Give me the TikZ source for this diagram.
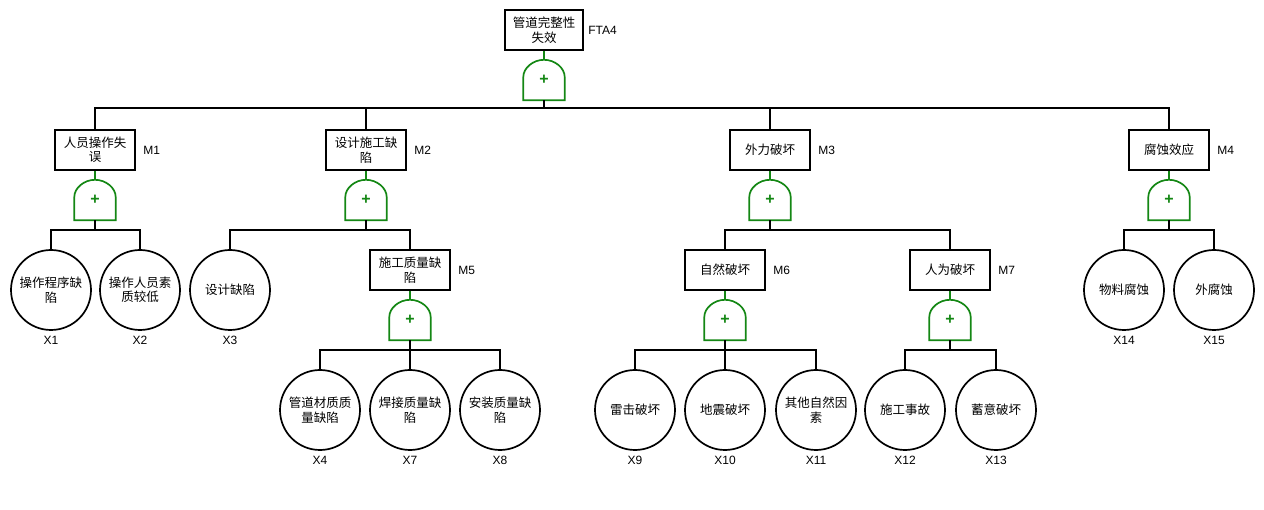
\documentclass[tikz,border=0pt]{standalone}
\usepackage{fontspec}
\setmainfont{Liberation Sans}
\newfontfamily\cjk{Noto Sans CJK SC}
\usetikzlibrary{positioning,calc}

\definecolor{gategreen}{RGB}{20,135,20}

% OR gate: an invisible node plus the arch outline round it
\newcommand{\orgate}[3]{%
	\node[gatenode] (#1) at (#2,#3) {+};
	\draw[gateline] (#1.south west) -- ([yshift=3pt]#1.west)
		.. controls ([yshift=12pt]#1.west) and ([xshift=-11pt]#1.north) .. (#1.north)
		.. controls ([xshift=11pt]#1.north) and ([yshift=12pt]#1.east) .. ([yshift=3pt]#1.east)
		-- (#1.south east) -- cycle;
}

\begin{document}
\begin{tikzpicture}[x=1pt, y=-1pt, font=\fontsize{12.5}{14.5}\selectfont\cjk,
		event/.style={draw, line width=1.7pt, minimum width=80pt, minimum height=40pt, inner sep=1pt, align=center},
		basic/.style={circle, draw, line width=1.7pt, minimum size=80pt, inner sep=0pt, align=center},
		gatenode/.style={minimum width=41pt, minimum height=40pt, inner sep=0pt, text=gategreen,
			font=\fontsize{16}{16}\selectfont\bfseries\rmfamily},
		gateline/.style={draw=gategreen, line width=1.7pt},
		conn/.style={line width=1.7pt},
		tag/.style={font=\fontsize{12}{14}\selectfont\rmfamily}]
	\useasboundingbox (0,0) rectangle (1264,510);
	% Top event
	\node[event, minimum width=78pt] (top) at (544,30) {管道完整性\\失效};
	\node[tag, right=1pt of top] (ttop) {FTA4};
	\orgate{g0}{544}{80}
	\draw[gateline] (top.south) -- (g0.north);
	% Intermediate events
	\node[event] (m1) at (95,150) {人员操作失\\误};
	\node[event] (m2) at (366,150) {设计施工缺\\陷};
	\node[event] (m3) at (770,150) {外力破坏};
	\node[event] (m4) at (1169,150) {腐蚀效应};
	\node[event] (m5) at (410,270) {施工质量缺\\陷};
	\node[event] (m6) at (725,270) {自然破坏};
	\node[event] (m7) at (950,270) {人为破坏};
	\foreach \m in {1, ..., 7} {
		\node[tag, right=4pt of m\m] (tm\m) {M\m};
	}
	\orgate{g1}{95}{200}
	\orgate{g2}{366}{200}
	\orgate{g3}{770}{200}
	\orgate{g4}{1169}{200}
	\orgate{g5}{410}{320}
	\orgate{g6}{725}{320}
	\orgate{g7}{950}{320}
	\foreach \m in {1, ..., 7} {
		\draw[gateline] (m\m.south) -- (g\m.north);
	}
	% Basic events
	\foreach \n/\x/\y/\t in {
			1/51/290/{操作程序缺\\陷}, 2/140/290/{操作人员素\\质较低}, 3/230/290/{设计缺陷},
			4/320/410/{管道材质质\\量缺陷}, 7/410/410/{焊接质量缺\\陷}, 8/500/410/{安装质量缺\\陷},
			9/635/410/{雷击破坏}, 10/725/410/{地震破坏}, 11/816/410/{其他自然因\\素},
			12/905/410/{施工事故}, 13/996/410/{蓄意破坏},
			14/1124/290/{物料腐蚀}, 15/1214/290/{外腐蚀}} {
		\node[basic] (x\n) at (\x,\y) {\t};
		\node[tag, below=2pt of x\n] (tx\n) {X\n};
	}
	% Connectors
	\foreach \c in {m1, m2, m3, m4} {
		\draw[conn] (g0.south) -- ++(0,8) -| (\c.north);
	}
	\foreach \g/\c in {g1/x1, g1/x2, g2/x3, g2/m5, g3/m6, g3/m7, g4/x14, g4/x15,
			g5/x4, g5/x7, g5/x8, g6/x9, g6/x10, g6/x11, g7/x12, g7/x13} {
		\draw[conn] (\g.south) -- ++(0,10) -| (\c.north);
	}
\end{tikzpicture}
\end{document}
